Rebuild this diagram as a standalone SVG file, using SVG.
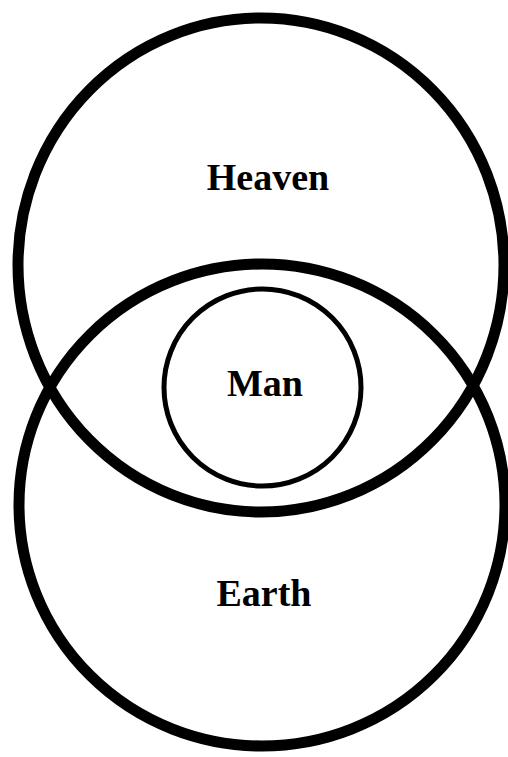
<svg xmlns="http://www.w3.org/2000/svg" width="508" height="757" viewBox="0 0 508 757">
<style>
.big{fill:none;stroke:#000;stroke-width:11}
.small{fill:none;stroke:#000;stroke-width:5}
.lbl{font-family:"Liberation Serif","Times New Roman",serif;font-weight:bold;font-size:38px;fill:#000;text-anchor:middle}
</style>
<rect width="508" height="757" fill="#fff"/>
<g id="heaven">
<ellipse class="big" cx="261" cy="265" rx="243" ry="247"/>
<text class="lbl" x="268" y="190">Heaven</text>
</g>
<g id="earth">
<ellipse class="big" cx="262" cy="505" rx="243" ry="241"/>
<text class="lbl" x="264" y="606">Earth</text>
</g>
<g id="man">
<circle class="small" cx="262.5" cy="387.5" r="98.5"/>
<text class="lbl" x="265" y="396">Man</text>
</g>
<g id="connectors"></g>
</svg>
